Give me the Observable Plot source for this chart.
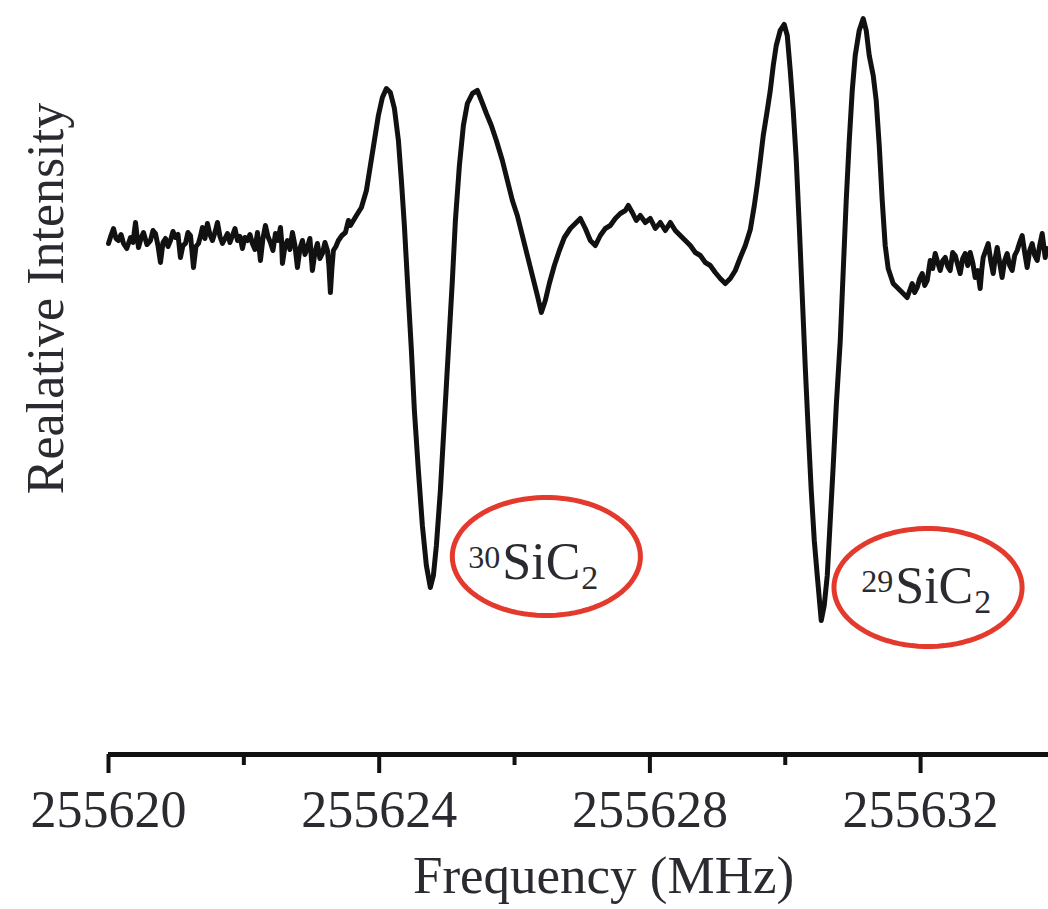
<!DOCTYPE html>
<html>
<head>
<meta charset="utf-8">
<script src="https://cdn.jsdelivr.net/npm/d3@7"></script>
<script src="https://cdn.jsdelivr.net/npm/@observablehq/plot@0.6"></script>
<style>
  html, body { margin: 0; padding: 0; background: #fff; }
  #chart svg { display: block; }
</style>
</head>
<body>
<div id="chart"></div>
<script>
// Frequency (MHz) of each sample of the spectrum
const freq = [
  255620.000, 255620.037, 255620.074, 255620.111, 255620.148, 255620.185, 255620.222, 255620.270, 255620.325, 255620.362,
  255620.399, 255620.421, 255620.443, 255620.480, 255620.517, 255620.568, 255620.620, 255620.657, 255620.694, 255620.731,
  255620.768, 255620.805, 255620.842, 255620.879, 255620.916, 255620.953, 255620.990, 255621.027, 255621.063, 255621.100,
  255621.137, 255621.174, 255621.211, 255621.233, 255621.256, 255621.292, 255621.329, 255621.358, 255621.388, 255621.425,
  255621.462, 255621.499, 255621.536, 255621.573, 255621.610, 255621.647, 255621.684, 255621.721, 255621.758, 255621.795,
  255621.832, 255621.869, 255621.906, 255621.943, 255621.979, 255622.016, 255622.053, 255622.090, 255622.127, 255622.164,
  255622.201, 255622.223, 255622.245, 255622.282, 255622.319, 255622.356, 255622.393, 255622.430, 255622.467, 255622.504,
  255622.541, 255622.555, 255622.570, 255622.607, 255622.644, 255622.681, 255622.718, 255622.755, 255622.792, 255622.829,
  255622.866, 255622.903, 255622.939, 255622.976, 255623.013, 255623.050, 255623.087, 255623.124, 255623.161, 255623.198,
  255623.235, 255623.257, 255623.279, 255623.301, 255623.323, 255623.360, 255623.397, 255623.449, 255623.501, 255623.545,
  255623.575, 255623.663, 255623.737, 255623.811, 255623.870, 255623.929, 255623.988, 255624.047, 255624.106,
  255624.165, 255624.225, 255624.284, 255624.328, 255624.372, 255624.417, 255624.476, 255624.520, 255624.579, 255624.638,
  255624.697, 255624.756, 255624.801, 255624.845, 255624.904, 255624.963, 255625.022, 255625.081, 255625.126, 255625.185,
  255625.244, 255625.303, 255625.377, 255625.451, 255625.510, 255625.584, 255625.657, 255625.731, 255625.820, 255625.894,
  255625.968, 255626.041, 255626.115, 255626.189, 255626.263, 255626.337, 255626.396, 255626.455, 255626.514, 255626.588,
  255626.662, 255626.736, 255626.824, 255626.913, 255626.972, 255627.046, 255627.120, 255627.194, 255627.267, 255627.341,
  255627.415, 255627.489, 255627.563, 255627.637, 255627.681, 255627.740, 255627.799, 255627.858, 255627.932, 255628.006,
  255628.080, 255628.154, 255628.228, 255628.302, 255628.375, 255628.449, 255628.523, 255628.597, 255628.671, 255628.745,
  255628.819, 255628.892, 255628.966, 255629.040, 255629.114, 255629.188, 255629.262, 255629.336, 255629.410, 255629.484,
  255629.543, 255629.587, 255629.631, 255629.675, 255629.734, 255629.779, 255629.823, 255629.867, 255629.926, 255629.985,
  255630.030, 255630.074, 255630.118, 255630.163, 255630.207, 255630.251, 255630.296, 255630.340, 255630.384, 255630.429,
  255630.473, 255630.532, 255630.576, 255630.621, 255630.665, 255630.709, 255630.754, 255630.813, 255630.857, 255630.901,
  255630.946, 255630.990, 255631.034, 255631.093, 255631.152, 255631.197, 255631.241, 255631.300, 255631.344, 255631.389,
  255631.433, 255631.477, 255631.521, 255631.595, 255631.699, 255631.802,
  255631.876, 255631.913, 255631.950, 255631.987, 255632.024, 255632.061, 255632.098, 255632.120, 255632.142, 255632.179,
  255632.216, 255632.253, 255632.290, 255632.327, 255632.364, 255632.401, 255632.437, 255632.474, 255632.511, 255632.548,
  255632.585, 255632.622, 255632.659, 255632.696, 255632.733, 255632.770, 255632.807, 255632.844, 255632.880, 255632.903,
  255632.925, 255632.962, 255632.999, 255633.036, 255633.073, 255633.102, 255633.132, 255633.168, 255633.205, 255633.242,
  255633.279, 255633.316, 255633.353, 255633.390, 255633.427, 255633.464, 255633.501, 255633.538, 255633.575, 255633.612,
  255633.649, 255633.686, 255633.723, 255633.760, 255633.797, 255633.819, 255633.841, 255633.863, 255633.885
];

// Relative intensity (arbitrary units) at each frequency
const intensity = [
  -0.03, 0.05, 0.12, 0.02, 0.00, 0.06, -0.03, -0.08, 0.03, -0.02,
  0.18, 0.05, -0.07, 0.02, 0.08, -0.04, 0.00, 0.10, 0.07, -0.05,
  -0.22, -0.02, 0.02, -0.06, 0.00, 0.09, 0.03, 0.06, -0.17, -0.05,
  -0.03, 0.08, 0.05, -0.10, -0.27, -0.06, -0.03, 0.04, 0.13, 0.02,
  0.17, 0.06, 0.00, 0.08, 0.18, 0.04, -0.03, 0.02, 0.07, -0.02,
  0.05, 0.12, 0.00, 0.04, -0.08, 0.03, 0.00, 0.06, -0.03, -0.09,
  0.08, -0.05, -0.20, 0.02, 0.15, 0.04, -0.02, -0.10, 0.07, 0.00,
  0.13, 0.02, -0.23, -0.06, 0.00, -0.09, 0.08, -0.05, -0.27, -0.08,
  0.00, -0.14, -0.07, 0.02, -0.30, -0.12, -0.03, -0.18, -0.13, -0.02,
  -0.10, -0.25, -0.52, -0.28, -0.10, -0.06, 0.00, 0.05, 0.08, 0.20,
  0.15, 0.25, 0.33, 0.50, 0.75, 1.00, 1.25, 1.43, 1.52,
  1.48, 1.32, 1.00, 0.60, 0.15, -0.40, -1.10, -1.70, -2.30, -2.85,
  -3.25, -3.47, -3.35, -3.05, -2.50, -1.80, -1.10, -0.40, 0.20, 0.75,
  1.15, 1.37, 1.47, 1.50, 1.40, 1.27, 1.15, 1.00, 0.80, 0.60,
  0.40, 0.25, 0.05, -0.15, -0.35, -0.55, -0.72, -0.60, -0.43, -0.25,
  -0.10, 0.03, 0.12, 0.18, 0.22, 0.12, 0.00, -0.05, 0.05, 0.12,
  0.15, 0.22, 0.27, 0.30, 0.35, 0.28, 0.20, 0.25, 0.18, 0.22,
  0.12, 0.18, 0.10, 0.18, 0.10, 0.05, 0.00, -0.05, -0.12, -0.15,
  -0.22, -0.25, -0.32, -0.38, -0.43, -0.38, -0.30, -0.17, -0.05, 0.11,
  0.35, 0.56, 0.80, 1.05, 1.30, 1.50, 1.75, 1.95, 2.10, 2.16,
  2.05, 1.70, 1.30, 0.80, 0.15, -0.55, -1.27, -1.90, -2.50, -3.00,
  -3.35, -3.80, -3.65, -3.35, -2.80, -2.25, -1.65, -1.00, -0.30, 0.40,
  1.00, 1.50, 1.85, 2.10, 2.22, 2.10, 1.85, 1.65, 1.40, 0.95,
  0.40, -0.05, -0.28, -0.43, -0.50, -0.57,
  -0.43, -0.52, -0.47, -0.38, -0.33, -0.45, -0.40, -0.30, -0.20, -0.28,
  -0.13, -0.22, -0.30, -0.20, -0.17, -0.26, -0.30, -0.12, -0.15, -0.24,
  -0.33, -0.18, -0.13, -0.25, -0.12, -0.22, -0.37, -0.30, -0.48, -0.30,
  -0.17, -0.10, -0.03, -0.20, -0.33, -0.18, -0.07, -0.22, -0.37, -0.20,
  -0.13, -0.25, -0.30, -0.15, -0.10, -0.02, 0.05, -0.12, -0.27, -0.10,
  -0.03, -0.15, -0.20, -0.05, 0.07, -0.05, -0.17, -0.08, -0.10
];

// Axis ticks
const majorTicks = [255620, 255624, 255628, 255632];
const minorTicks = [255622, 255626, 255630];

// Isotopologue annotations
const isotopes = ["30", "29"];
const labelFreq = [255625.82, 255631.625];
const labelIntensity = [-3.38, -3.62];
const ringFreq = [255626.47, 255632.11];
const ringIntensity = [-3.16, -3.47];

// ---- build tables ----
const n = Math.min(freq.length, intensity.length);
const spectrum = freq.slice(0, n).map((f, i) => ({f, v: intensity[i]}));
const labels = isotopes.map((m, i) => ({m, f: labelFreq[i], v: labelIntensity[i]}));

const ringHalfWidth = 1.39;   // MHz
const ringHalfHeight = 0.59;  // intensity units
const ringPts = [];
ringFreq.forEach((cf, k) => {
  d3.range(0, 360, 4).forEach(a => {
    const t = a * Math.PI / 180;
    ringPts.push({k, f: cf + ringHalfWidth * Math.cos(t), v: ringIntensity[k] + ringHalfHeight * Math.sin(t)});
  });
});

const yMin = -5.14, yMax = 2.40;
const ink = "#111";
const textInk = "#2a2a30";
const red = "#e43a2e";

const chart = Plot.plot({
  width: 1048,
  height: 909,
  marginLeft: 108,
  marginRight: 0,
  marginTop: 0,
  marginBottom: 155,
  x: {domain: [255620, 255633.89]},
  y: {domain: [yMin, yMax], axis: null},
  style: {
    fontFamily: "'Liberation Serif', 'Times New Roman', serif",
    background: "#fff",
    color: textInk
  },
  marks: [
    Plot.ruleY([yMin], {stroke: ink, strokeWidth: 5}),
    Plot.axisX(majorTicks, {
      tickSize: 19, tickPadding: 17, stroke: ink, strokeWidth: 4,
      fontSize: 52, fill: textInk, tickFormat: d => String(d), label: null
    }),
    Plot.axisX(minorTicks, {tickSize: 11, stroke: ink, strokeWidth: 4, fill: "none", label: null}),
    Plot.line(spectrum, {x: "f", y: "v", stroke: ink, strokeWidth: 5, strokeLinejoin: "round", strokeLinecap: "round"}),
    Plot.line(ringPts, {x: "f", y: "v", z: "k", curve: "linear-closed", stroke: red, strokeWidth: 5}),
    Plot.text(labels, {x: "f", y: "v", text: () => "SiC", textAnchor: "start", lineAnchor: "bottom", fontSize: 52, fill: textInk}),
    Plot.text(labels, {x: "f", y: "v", text: "m", textAnchor: "end", lineAnchor: "bottom", fontSize: 32, dx: -2, dy: -11, fill: textInk}),
    Plot.text(labels, {x: "f", y: "v", text: () => "2", textAnchor: "start", lineAnchor: "bottom", fontSize: 34, dx: 79, dy: 10, fill: textInk}),
    Plot.text(["Frequency (MHz)"], {frameAnchor: "bottom", dx: 25, dy: 122, fontSize: 53, lineAnchor: "middle", textAnchor: "middle", fill: textInk}),
    Plot.text(["Realative Intensity"], {frameAnchor: "left", rotate: -90, dx: -62, dy: -79, fontSize: 52, lineAnchor: "middle", textAnchor: "middle", fill: textInk})
  ]
});

document.getElementById("chart").appendChild(chart);
</script>
</body>
</html>
